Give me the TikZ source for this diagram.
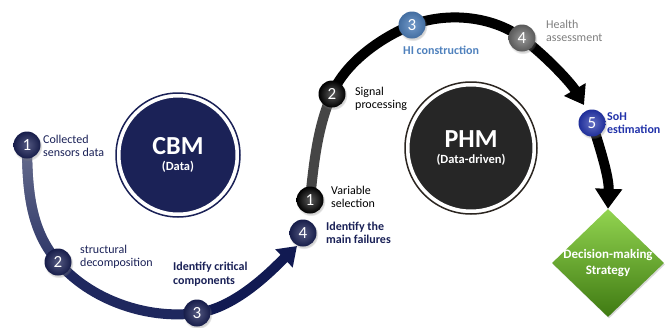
\documentclass[tikz,border=0pt]{standalone}
\usepackage{fontspec}
\setmainfont{Carlito}
\usetikzlibrary{arrows.meta,shapes.geometric,shadows,fadings,backgrounds}
\definecolor{navy}{HTML}{1B2257}
\definecolor{navyA}{HTML}{2B3466}
\definecolor{slate}{HTML}{6A7090}
\definecolor{navyB}{HTML}{1F285E}
\definecolor{navyC}{HTML}{111A52}
\definecolor{lbnavy}{HTML}{1A2157}
\definecolor{lbblue}{HTML}{4F81BD}
\definecolor{lbgray}{HTML}{7F7F7F}
\definecolor{lbsoh}{HTML}{2233AA}
\definecolor{phmfill}{HTML}{262626}
\definecolor{phmline}{HTML}{2B2520}
\definecolor{darkgray}{HTML}{454545}
\definecolor{greenA}{HTML}{92D450}
\definecolor{greenB}{HTML}{3F7A12}
\tikzfading[name=fadedown, top color=transparent!0, bottom color=transparent!100]
\begin{document}
\begin{tikzpicture}[x=1pt,y=-1pt,
  num/.style={circle, minimum size=27pt, inner sep=0pt, text=white,
    font=\fontsize{17}{17}\selectfont,
    circular drop shadow={shadow xshift=0.8pt, shadow yshift=-1.5pt, opacity=0.35, shadow scale=1.08}},
  cbmnum/.style={num, inner color=navy!75!white, outer color=navy!85!black},
  phmnum/.style={num, inner color=black!65, outer color=black},
  lbl/.style={anchor=west, inner sep=0pt, align=left, font=\fontsize{12}{13.5}\selectfont},
  blbl/.style={lbl, font=\bfseries\fontsize{12}{13.5}\selectfont},
  bigc/.style={circle, draw=white, line width=3pt, text=white, align=center, inner sep=0pt},
  cbmarc/.style={line width=10pt},
  phmarc/.style={line width=10pt, color=black},
]
\useasboundingbox (0,0) rectangle (670,327);
\begin{scope}[on background layer]
  \fill[white] (0,0) rectangle (670,327);
\end{scope}

% big circles
\node[bigc, fill=navy, minimum size=118pt] (cbm) at (178,155)
  {\fontsize{26}{26}\selectfont\bfseries CBM\\[4pt]\fontsize{12.5}{12.5}\selectfont\bfseries (Data)};
\draw[navy, line width=1.5pt] (cbm.center) circle (62pt);
\node[bigc, fill=phmfill, minimum size=126pt] (phm) at (471,148)
  {\fontsize{26}{26}\selectfont\bfseries PHM\\[4pt]\fontsize{12.5}{12.5}\selectfont\bfseries (Data-driven)};
\draw[phmline, line width=1.5pt] (phm.center) circle (66pt);

% CBM numbered nodes
\node[cbmnum] (c1) at (27,145) {1};
\node[cbmnum] (c2) at (58,262) {2};
\node[cbmnum] (c3) at (197,313) {3};
\node[cbmnum] (c4) at (303,233) {4};
\coordinate (cend) at (297,246);

% PHM numbered nodes
\node[phmnum] (p1) at (310,200) {1};
\node[phmnum] (p2) at (332,94) {2};
\node[num, inner color=lbblue!80!white, outer color=lbblue!85!black] (p3) at (412,25) {3};
\node[num, inner color=black!40, outer color=black!65] (p4) at (522,38) {4};
\node[num, inner color=lbsoh!70!white, outer color=lbsoh!90!black] (p5) at (592,123) {5};
\coordinate (pend) at (584,105);

% diamond
\node[diamond, minimum width=112pt, minimum height=108pt, inner sep=0pt,
  top color=greenA, bottom color=greenB,
  drop shadow={shadow xshift=1pt, shadow yshift=-1.5pt, opacity=0.3}] (dm) at (608,263) {};
\node[text=white, align=center, inner sep=0pt, font=\bfseries\fontsize{13}{15.5}\selectfont] (dmtext) at (dm.center) {Decision-making\\Strategy};

% labels
\node[lbl, text=lbnavy] (t1) at (43,146) {Collected\\sensors data};
\node[lbl, text=lbnavy] (t2) at (80,257) {structural\\decomposition};
\node[blbl, text=lbnavy] (t3) at (173,274) {Identify critical\\components};
\node[blbl, text=lbnavy] (t4) at (326,233) {Identify the\\main failures};
\node[lbl, text=black] (s1) at (331,197) {Variable\\selection};
\node[lbl, text=black] (s2) at (355,99) {Signal\\processing};
\node[blbl, text=lbblue] (s3) at (403,50) {HI construction};
\node[lbl, text=lbgray] (s4) at (546,31) {Health\\assessment};
\node[blbl, text=lbsoh] (s5) at (607,123) {SoH\\estimation};

% arcs
\begin{scope}[on background layer]
  \draw[cbmarc, navyA] (c1.center) .. controls (27,195) and (32,232) .. (c2.center);
  \draw[cbmarc, slate, path fading=fadedown] (c1.center) .. controls (27,195) and (32,232) .. (c2.center);
  \draw[cbmarc, navyB] (c2.center) .. controls (90,300) and (148,320) .. (c3.center);
  \draw[cbmarc, navyC, -{Triangle[width=24pt,length=18pt]}] (c3.center) .. controls (237,308) and (275,267) .. (cend);

  \draw[phmarc, darkgray] (p1.center) .. controls (314,160) and (318,126) .. (p2.center);
  \draw[phmarc] (p2.center) .. controls (346,61) and (384,36) .. (p3.center);
  \draw[phmarc] (p3.center) .. controls (449,11) and (494,17) .. (p4.center);
  \draw[phmarc, -{Triangle[width=24pt,length=18pt]}] (p4.center) .. controls (546,56) and (571,83) .. (pend);
  \draw[phmarc, -{Triangle[width=26pt,length=20pt]}] (p5.center) .. controls (604,160) and (609,180) .. (dm.north);
\end{scope}
\end{tikzpicture}
\end{document}
